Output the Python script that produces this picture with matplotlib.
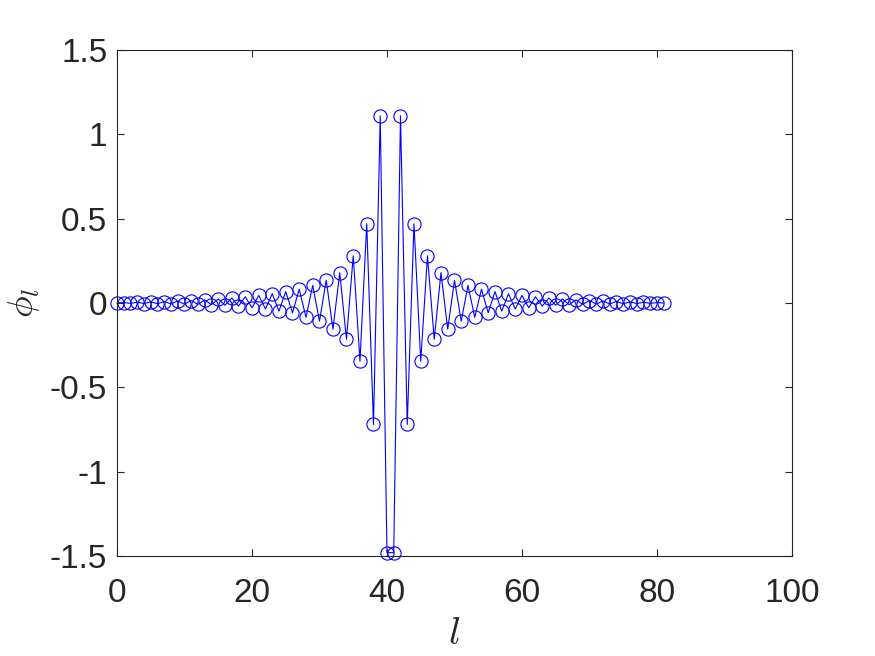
import matplotlib
matplotlib.use("Agg")
import matplotlib.pyplot as plt
import numpy as np

# left half of the mode, l = 0..40; the right half mirrors it (phi_l = phi_{81-l})
phi_left = [0.0, 0.003, -0.002, 0.005, -0.003, 0.007, -0.004, 0.009, -0.005, 0.012,
            -0.006, 0.015, -0.008, 0.019, -0.010, 0.024, -0.013, 0.030, -0.018, 0.037,
            -0.028, 0.045, -0.035, 0.055, -0.048, 0.068, -0.058, 0.082, -0.085, 0.105,
            -0.107, 0.135, -0.155, 0.180, -0.215, 0.280, -0.345, 0.470, -0.720, 1.110,
            -1.480]
phi = phi_left + phi_left[::-1]
sites = list(range(len(phi)))

x_ticks = [0, 20, 40, 60, 80, 100]
y_ticks = [-1.5, -1, -0.5, 0, 0.5, 1, 1.5]
y_tick_labels = ["-1.5", "-1", "-0.5", "0", "0.5", "1", "1.5"]

plt.rcParams["font.family"] = ["Liberation Sans", "DejaVu Sans"]
plt.rcParams["mathtext.fontset"] = "cm"

axis_col = (0.15, 0.15, 0.15)

fig = plt.figure(figsize=(8.75, 6.56), dpi=100)
ax = fig.add_axes([0.1337, 0.1524, 0.7714, 0.7713])
ax.plot(sites, phi, "-o", color="blue", lw=0.8, markersize=9.5,
        markerfacecolor="none", markeredgewidth=0.8, clip_on=False)

ax.set_xlim(0, 100)
ax.set_ylim(-1.5, 1.5)
ax.set_xticks(x_ticks)
ax.set_yticks(y_ticks)
ax.set_yticklabels(y_tick_labels)
ax.tick_params(direction="in", length=5, width=0.8, labelsize=24,
               colors=axis_col, top=True, right=True)
ax.tick_params(axis="x", pad=16)
ax.tick_params(axis="y", pad=7)
for s in ax.spines.values():
    s.set_color(axis_col)
    s.set_linewidth(0.8)

ax.set_xlabel(r"$l$", fontsize=28, color=axis_col, labelpad=5)
ax.set_ylabel(r"$\phi_l$", fontsize=26, color=axis_col, labelpad=6)

fig.savefig("out.png", dpi=100)
